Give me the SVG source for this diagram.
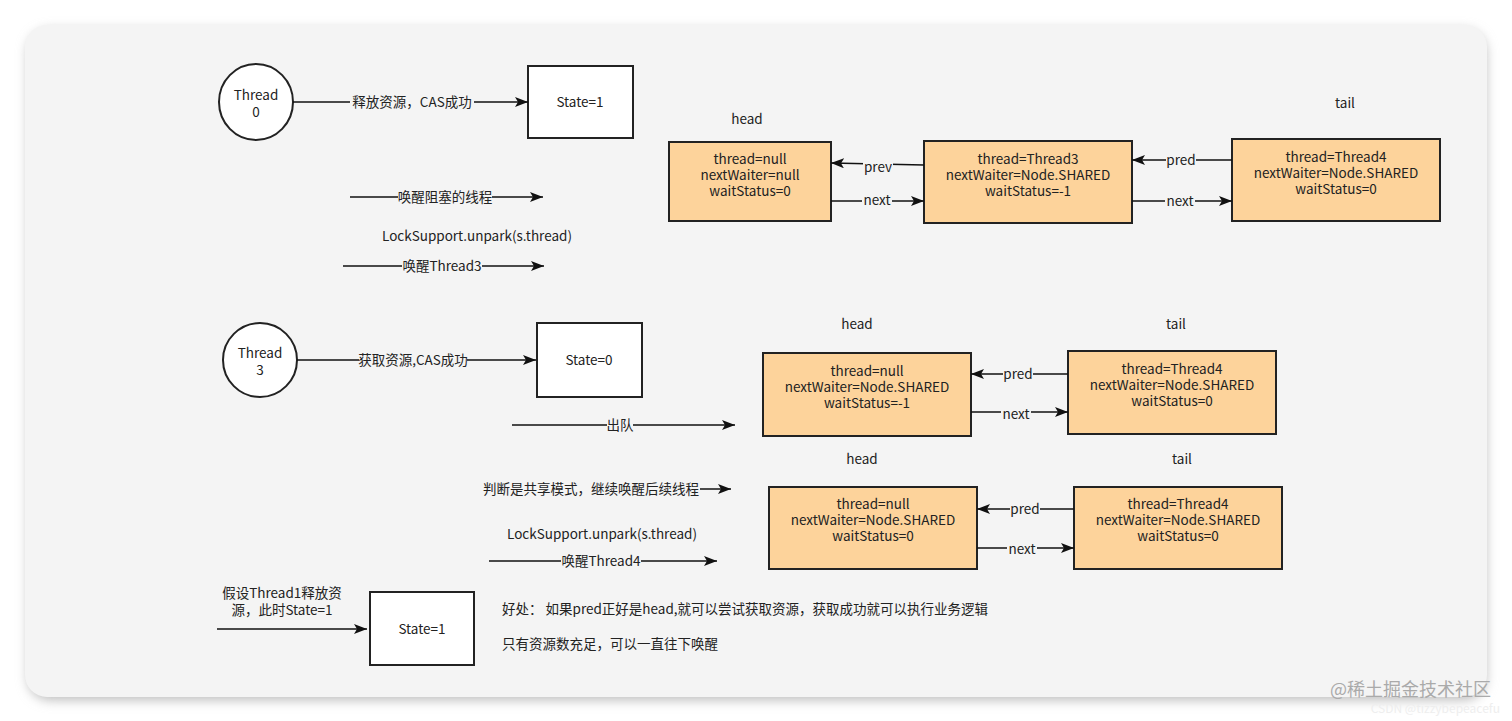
<svg xmlns="http://www.w3.org/2000/svg" width="1512" height="721" viewBox="0 0 1512 721">
<defs>
<marker id="ah" markerWidth="13" markerHeight="10" refX="13" refY="5" orient="auto" markerUnits="userSpaceOnUse"><path d="M0,0 L13,5 L0,10 L3,5 Z" fill="#111"/></marker>
<filter id="sh" x="-5%" y="-5%" width="110%" height="115%"><feGaussianBlur stdDeviation="6"/></filter>
<style>
text{font-family:"Microsoft YaHei","Noto Sans CJK SC","Liberation Sans",sans-serif;font-size:13.5px;fill:#222;text-anchor:middle}
.n{fill:#fdd39b;stroke:#222;stroke-width:2}
.b{fill:#fff;stroke:#222;stroke-width:2}
.c line{stroke:#111;stroke-width:1.5;marker-end:url(#ah)}
.lb{fill:#f4f4f4}
.l{text-anchor:start}
</style>
</defs>
<rect width="1512" height="721" fill="#fff"/>
<rect x="28" y="30" width="1458" height="670" rx="22" fill="#bbb" filter="url(#sh)"/>
<rect x="25" y="25" width="1462" height="672" rx="22" fill="#f4f4f4"/>

<g id="thread0"><ellipse cx="256" cy="102" rx="37" ry="38" class="b"/><text x="256" y="100">Thread</text><text x="256" y="117">0</text></g>
<g id="state1a"><rect x="528" y="66" width="105" height="72" class="b"/><text x="580" y="107">State=1</text></g>
<text x="747" y="124">head</text><text x="1345" y="108">tail</text>
<g id="n1"><rect x="669" y="142" width="162" height="79" class="n"/><text x="750" y="164">thread=null</text><text x="750" y="180">nextWaiter=null</text><text x="750" y="196">waitStatus=0</text></g>
<g id="n2"><rect x="924" y="141" width="208" height="82" class="n"/><text x="1028" y="164">thread=Thread3</text><text x="1028" y="180">nextWaiter=Node.SHARED</text><text x="1028" y="196">waitStatus=-1</text></g>
<g id="n3"><rect x="1232" y="139" width="208" height="82" class="n"/><text x="1336" y="162">thread=Thread4</text><text x="1336" y="178">nextWaiter=Node.SHARED</text><text x="1336" y="194">waitStatus=0</text></g>

<g id="thread3"><ellipse cx="260" cy="360" rx="37" ry="37" class="b"/><text x="260" y="358">Thread</text><text x="260" y="375">3</text></g>
<g id="state0"><rect x="537" y="323" width="105" height="74" class="b"/><text x="589" y="365">State=0</text></g>
<text x="857" y="329">head</text><text x="1176" y="329">tail</text>
<g id="n4"><rect x="763" y="353" width="208" height="83" class="n"/><text x="867" y="376">thread=null</text><text x="867" y="392">nextWaiter=Node.SHARED</text><text x="867" y="408">waitStatus=-1</text></g>
<g id="n5"><rect x="1068" y="351" width="208" height="83" class="n"/><text x="1172" y="374">thread=Thread4</text><text x="1172" y="390">nextWaiter=Node.SHARED</text><text x="1172" y="406">waitStatus=0</text></g>
<text x="862" y="464">head</text><text x="1182" y="464">tail</text>
<g id="n6"><rect x="769" y="487" width="208" height="82" class="n"/><text x="873" y="509">thread=null</text><text x="873" y="525">nextWaiter=Node.SHARED</text><text x="873" y="541">waitStatus=0</text></g>
<g id="n7"><rect x="1074" y="487" width="208" height="82" class="n"/><text x="1178" y="509">thread=Thread4</text><text x="1178" y="525">nextWaiter=Node.SHARED</text><text x="1178" y="541">waitStatus=0</text></g>
<g id="state1b"><rect x="370" y="592" width="104" height="73" class="b"/><text x="422" y="634">State=1</text></g>

<g class="c">
<line x1="293" y1="102" x2="528" y2="102"/>
<line x1="924" y1="165" x2="831" y2="163"/>
<line x1="831" y1="201" x2="924" y2="201"/>
<line x1="1232" y1="160" x2="1132" y2="160"/>
<line x1="1132" y1="201" x2="1232" y2="201"/>
<line x1="350" y1="197" x2="543" y2="197"/>
<line x1="343" y1="266" x2="544" y2="266"/>
<line x1="297" y1="360" x2="536" y2="360"/>
<line x1="1068" y1="374" x2="971" y2="374"/>
<line x1="971" y1="412" x2="1068" y2="412"/>
<line x1="512" y1="425" x2="735" y2="425"/>
<line x1="700" y1="489" x2="731" y2="489"/>
<line x1="1074" y1="509" x2="977" y2="509"/>
<line x1="977" y1="548" x2="1074" y2="548"/>
<line x1="489" y1="561" x2="717" y2="561"/>
<line x1="217" y1="629" x2="367" y2="629"/>
</g>
<g id="labels">
<rect x="350" y="94" width="124" height="17" class="lb"/><text x="412" y="107">释放资源，CAS成功</text>
<rect x="863" y="158" width="30" height="17" class="lb"/><text x="878" y="172">prev</text>
<rect x="862" y="193" width="30" height="17" class="lb"/><text x="877" y="205">next</text>
<rect x="1166" y="152" width="30" height="17" class="lb"/><text x="1181" y="165">pred</text>
<rect x="1165" y="194" width="30" height="17" class="lb"/><text x="1180" y="206">next</text>
<rect x="398" y="189" width="94" height="17" class="lb"/><text x="445" y="202">唤醒阻塞的线程</text>
<text x="477" y="241">LockSupport.unpark(s.thread)</text>
<rect x="402" y="258" width="80" height="17" class="lb"/><text x="442" y="271">唤醒Thread3</text>
<rect x="359" y="352" width="108" height="17" class="lb"/><text x="413" y="365">获取资源,CAS成功</text>
<rect x="1003" y="366" width="30" height="17" class="lb"/><text x="1018" y="379">pred</text>
<rect x="1001" y="406" width="30" height="17" class="lb"/><text x="1016" y="419">next</text>
<rect x="607" y="417" width="26" height="17" class="lb"/><text x="620" y="430">出队</text>
<text x="591" y="494">判断是共享模式，继续唤醒后续线程</text>
<rect x="1010" y="501" width="30" height="17" class="lb"/><text x="1025" y="514">pred</text>
<rect x="1007" y="541" width="30" height="17" class="lb"/><text x="1022" y="554">next</text>
<text x="602" y="539">LockSupport.unpark(s.thread)</text>
<rect x="561" y="553" width="80" height="17" class="lb"/><text x="601" y="566">唤醒Thread4</text>
<text x="282" y="598">假设Thread1释放资</text>
<text x="282" y="615">源，此时State=1</text>
<text x="502" y="614" class="l">好处：  如果pred正好是head,就可以尝试获取资源，获取成功就可以执行业务逻辑</text>
<text x="502" y="649" class="l">只有资源数充足，可以一直往下唤醒</text>
</g>
<text x="1491" y="696" style="font-size:18px;fill:#aaa;text-anchor:end">@稀土掘金技术社区</text>
<text x="1500" y="713" style="font-size:12px;fill:#eee;text-anchor:end">CSDN @tizzybepeacefu</text>
</svg>
